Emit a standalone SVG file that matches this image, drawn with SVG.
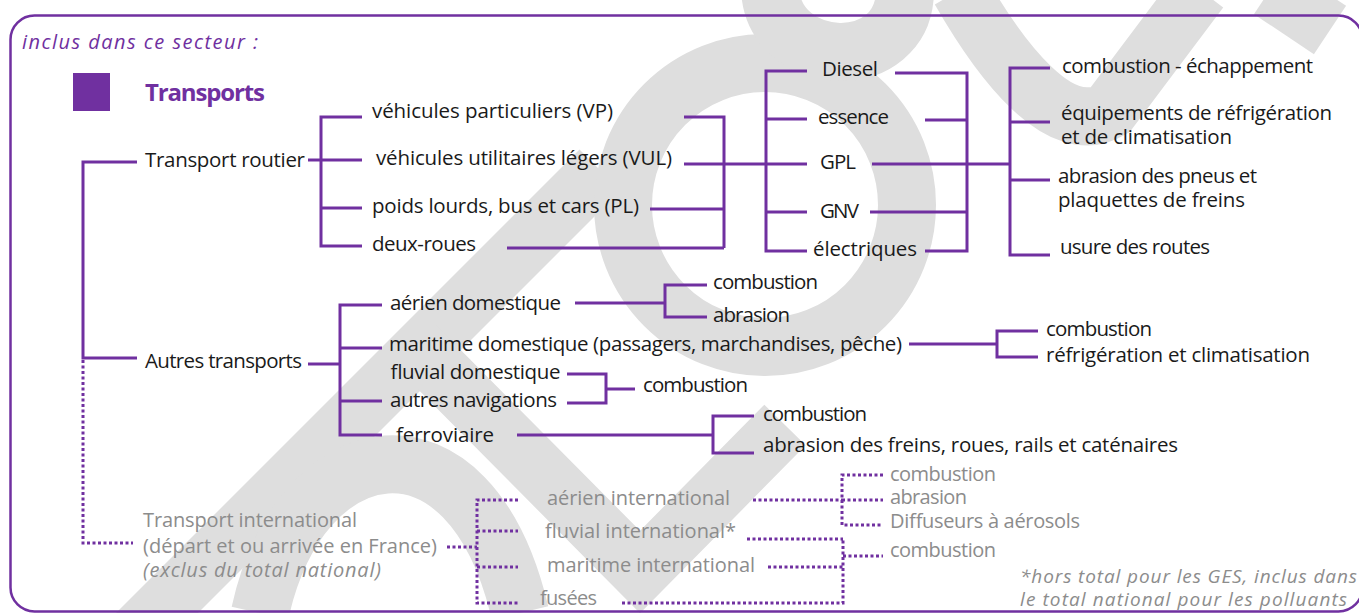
<svg xmlns="http://www.w3.org/2000/svg" width="1359" height="613" viewBox="0 0 1359 613">
  <style>
    .lbl { font-family: "Open Sans", "Liberation Sans", sans-serif; font-size: 20.5px; fill: #1a1a1a; }
    .gry { font-family: "Open Sans", "Liberation Sans", sans-serif; font-size: 20px; fill: #8c8c8c; }
    .note { font-family: "Open Sans", "Liberation Sans", sans-serif; font-size: 19px; font-style: italic; fill: #8c8c8c; }
    .head { font-family: "Open Sans", "Liberation Sans", sans-serif; fill: #7030a0; }
    .ln { fill: none; stroke: #7030a0; stroke-width: 3; }
    .dot { fill: none; stroke: #7030a0; stroke-width: 3; stroke-dasharray: 3 2.5; }
    .wm { fill: none; stroke: #dedede; stroke-width: 58; }
  </style>

  <!-- background watermark strokes -->
  <g id="watermark">
    <path class="wm" d="M120,650 L600,170"/>
    <circle class="wm" cx="765" cy="205" r="142"/>
    <path class="wm" d="M415,345 L640,572 L785,425"/>
    <path class="wm" d="M260,613 C300,430 470,400 520,613"/>
    <path class="wm" d="M770,-10 C775,70 905,75 905,-10"/>
    <path class="wm" d="M960,-10 C1000,60 1060,140 1110,110 L1200,-10"/>
    <path class="wm" d="M1270,-10 L1330,30"/>
  </g>

  <!-- frame -->
  <rect x="10.5" y="15.5" width="1352" height="596" rx="24" fill="none" stroke="#7030a0" stroke-width="2.5"/>

  <g id="header">
    <text class="head" x="22" y="49" font-size="20" font-style="italic" textLength="236">inclus dans ce secteur :</text>
    <rect x="73" y="73" width="37" height="38" fill="#7030a0"/>
    <text class="head" x="145" y="101" font-size="24" font-weight="bold" textLength="120">Transports</text>
  </g>

  <g id="connectors">
    <!-- root -->
    <path class="ln" d="M137,162 H83 V358 H137"/>
    <path class="dot" d="M83,360 V543 H133"/>
    <!-- transport routier -->
    <path class="ln" d="M308,160 H321"/>
    <path class="ln" d="M362,117 H321 V246 H362"/>
    <path class="ln" d="M321,160 H362 M321,208 H362"/>
    <path class="ln" d="M684,117 H724 V248 M650,209 H724 M507,248 H724 M684,164 H766"/>
    <!-- fuels -->
    <path class="ln" d="M807,71 H766 V251 H807 M766,119 H807 M766,164 H807 M766,212 H807"/>
    <path class="ln" d="M895,73 H967 V251 H925 M925,120 H967 M870,212 H967 M872,164 H1010"/>
    <!-- effects -->
    <path class="ln" d="M1050,68 H1010 V255 H1050 M1010,122 H1050 M1010,180 H1050"/>
    <!-- autres transports -->
    <path class="ln" d="M308,364 H340"/>
    <path class="ln" d="M382,305 H340 V435 H382 M340,348 H382 M340,401 H382"/>
    <path class="ln" d="M575,303 H665 M707,285 H665 V317 H707"/>
    <path class="ln" d="M909,344 H997 M1038,331 H997 V357 H1038"/>
    <path class="ln" d="M567,374 H606 V403 H567 M606,389 H635"/>
    <path class="ln" d="M517,435 H713 M754,416 H713 V453 H754"/>
    <!-- international -->
    <path class="dot" d="M447,547 H477"/>
    <path class="dot" d="M518,500 H477 V603 H518 M477,531 H518 M477,567 H518"/>
    <path class="dot" d="M753,500 H842 M883,475 H842 V525 H883 M842,500 H883"/>
    <path class="dot" d="M747,539 H843 M768,567 H843 M622,603 H843 V539 M843,556 H883"/>
  </g>

  <g id="n-routier"><text class="lbl" x="145" y="167" textLength="160">Transport routier</text></g>
  <g id="n-autres"><text class="lbl" x="145" y="368" textLength="157">Autres transports</text></g>

  <g id="n-vp"><text class="lbl" x="372" y="118" textLength="241">véhicules particuliers (VP)</text></g>
  <g id="n-vul"><text class="lbl" x="376" y="165" textLength="296">véhicules utilitaires légers (VUL)</text></g>
  <g id="n-pl"><text class="lbl" x="372" y="213" textLength="267">poids lourds, bus et cars (PL)</text></g>
  <g id="n-2r"><text class="lbl" x="372" y="251" textLength="104">deux-roues</text></g>

  <g id="n-diesel"><text class="lbl" x="822" y="76" textLength="56">Diesel</text></g>
  <g id="n-essence"><text class="lbl" x="818" y="124" textLength="71">essence</text></g>
  <g id="n-gpl"><text class="lbl" x="820" y="169" textLength="36">GPL</text></g>
  <g id="n-gnv"><text class="lbl" x="820" y="218" textLength="39">GNV</text></g>
  <g id="n-elec"><text class="lbl" x="813" y="256" textLength="104">électriques</text></g>

  <g id="n-comb-ech"><text class="lbl" x="1062" y="73" textLength="251">combustion - échappement</text></g>
  <g id="n-equip">
    <text class="lbl" x="1061" y="120" textLength="271">équipements de réfrigération</text>
    <text class="lbl" x="1061" y="144" textLength="171">et de climatisation</text>
  </g>
  <g id="n-pneus">
    <text class="lbl" x="1058" y="183" textLength="199">abrasion des pneus et</text>
    <text class="lbl" x="1058" y="207" textLength="187">plaquettes de freins</text>
  </g>
  <g id="n-usure"><text class="lbl" x="1060" y="254" textLength="150">usure des routes</text></g>

  <g id="n-aerien"><text class="lbl" x="390" y="310" textLength="171">aérien domestique</text></g>
  <g id="n-aerien-fx">
    <text class="lbl" x="713" y="289" textLength="105">combustion</text>
    <text class="lbl" x="713" y="322" textLength="77">abrasion</text>
  </g>
  <g id="n-maritime"><text class="lbl" x="389" y="351" textLength="513">maritime domestique (passagers, marchandises, pêche)</text></g>
  <g id="n-maritime-fx">
    <text class="lbl" x="1046" y="336" textLength="106">combustion</text>
    <text class="lbl" x="1046" y="362" textLength="264">réfrigération et climatisation</text>
  </g>
  <g id="n-fluvial"><text class="lbl" x="390" y="379" textLength="170">fluvial domestique</text></g>
  <g id="n-autresnav"><text class="lbl" x="390" y="407" textLength="167">autres navigations</text></g>
  <g id="n-fluvial-fx"><text class="lbl" x="643" y="392" textLength="105">combustion</text></g>
  <g id="n-ferro"><text class="lbl" x="396" y="442" textLength="98">ferroviaire</text></g>
  <g id="n-ferro-fx">
    <text class="lbl" x="763" y="421" textLength="104">combustion</text>
    <text class="lbl" x="763" y="452" textLength="415">abrasion des freins, roues, rails et caténaires</text>
  </g>

  <g id="n-intl">
    <text class="gry" x="143" y="527" textLength="214">Transport international</text>
    <text class="gry" x="143" y="553" textLength="294">(départ et ou arrivée en France)</text>
    <text class="gry" x="143" y="577" font-style="italic" textLength="238">(exclus du total national)</text>
  </g>
  <g id="n-aerien-int"><text class="gry" x="547" y="505" textLength="183">aérien international</text></g>
  <g id="n-fluvial-int"><text class="gry" x="545" y="538" textLength="191">fluvial international*</text></g>
  <g id="n-maritime-int"><text class="gry" x="547" y="572" textLength="208">maritime international</text></g>
  <g id="n-fusees"><text class="gry" x="540" y="605" textLength="57">fusées</text></g>
  <g id="n-aerien-int-fx">
    <text class="gry" x="890" y="481" textLength="106">combustion</text>
    <text class="gry" x="890" y="504" textLength="77">abrasion</text>
    <text class="gry" x="890" y="528" textLength="190">Diffuseurs à aérosols</text>
  </g>
  <g id="n-nav-int-fx"><text class="gry" x="890" y="557" textLength="106">combustion</text></g>

  <g id="footnote">
    <text class="note" x="1020" y="583" textLength="337">*hors total pour les GES, inclus dans</text>
    <text class="note" x="1020" y="606" textLength="327">le total national pour les polluants</text>
  </g>
</svg>
